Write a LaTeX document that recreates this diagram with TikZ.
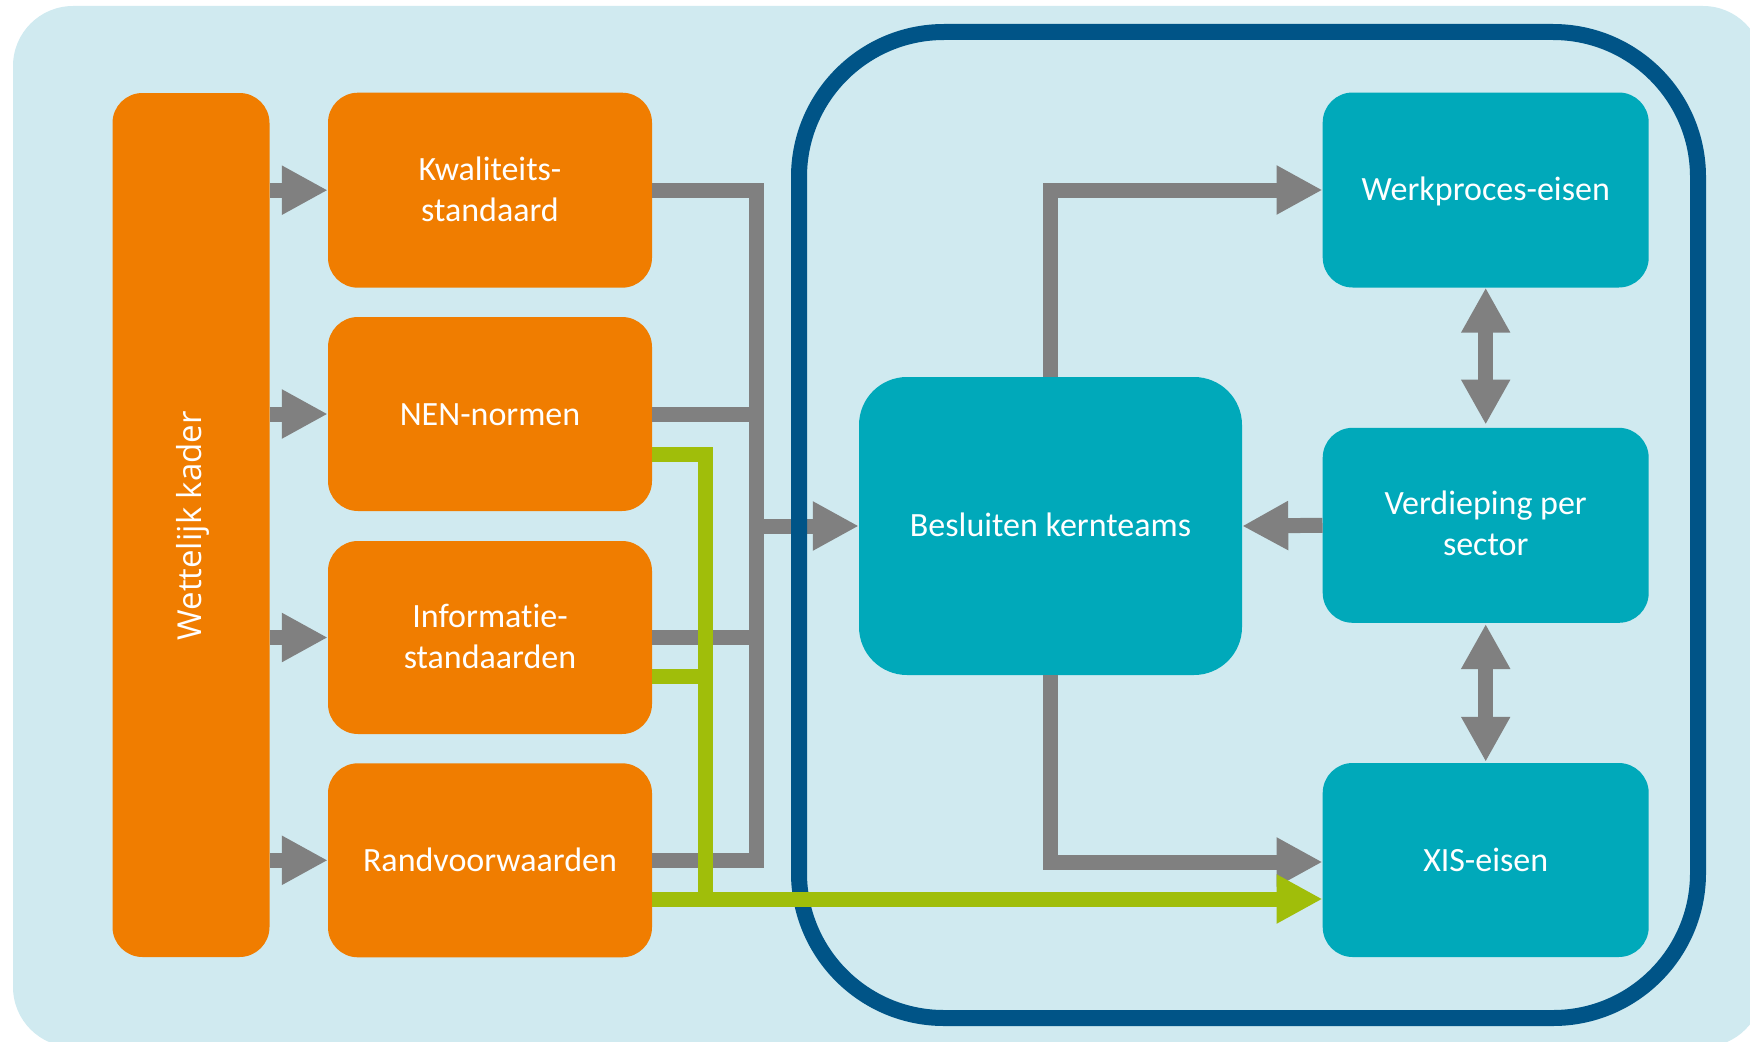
\documentclass[tikz,border=0pt]{standalone}
\usepackage{fontspec}
\setmainfont{Carlito}[Ligatures={NoCommon}]
\newfontfamily\wkfont{Open Sans}
\usetikzlibrary{arrows.meta}
\definecolor{bgblue}{RGB}{208,234,240}
\definecolor{orng}{RGB}{240,125,0}
\definecolor{tealb}{RGB}{0,169,186}
\definecolor{gry}{RGB}{128,128,128}
\definecolor{grn}{RGB}{160,190,10}
\definecolor{dblue}{RGB}{0,84,135}
\begin{document}
\begin{tikzpicture}[x=1pt,y=-1pt,
  obox/.style={fill=orng, rounded corners=30pt, inner sep=0pt},
  tbox/.style={fill=tealb, rounded corners=30pt, inner sep=0pt},
  lbl/.style={text=white, font=\fontsize{34}{41}\selectfont, anchor=base, inner sep=0pt},
  gline/.style={draw=gry, line width=15pt},
  garrow/.style={draw=gry, line width=15pt, -{Triangle[length=46pt,width=46pt]}},
  gdouble/.style={draw=gry, line width=15pt, {Triangle[length=45pt,width=46pt]}-{Triangle[length=45pt,width=46pt]}},
  grline/.style={draw=grn, line width=15pt},
  grarrow/.style={draw=grn, line width=15pt, -{Triangle[length=46pt,width=46pt]}}
]
\useasboundingbox (0,0) rectangle (1750,1041);
\clip (0,0) rectangle (1750,1041);
\fill[bgblue, rounded corners=60pt] (13,6) rectangle (1763,1047);

% boxes
\node[obox, minimum width=157pt, minimum height=864pt] (wk) at (191,525) {};
\node[obox, minimum width=324pt, minimum height=195pt] (kw) at (490,190.2) {};
\node[obox, minimum width=324pt, minimum height=194pt] (nen) at (490,414) {};
\node[obox, minimum width=324pt, minimum height=193pt] (inf) at (490,637.5) {};
\node[obox, minimum width=324pt, minimum height=194pt] (rv) at (490,860.3) {};
\node[tbox, rounded corners=48pt, minimum width=383pt, minimum height=298pt] (bes) at (1050.5,526) {};
\node[tbox, minimum width=326pt, minimum height=195pt] (wp) at (1485.7,190) {};
\node[tbox, minimum width=326pt, minimum height=195pt] (vp) at (1485.7,525.3) {};
\node[tbox, minimum width=326pt, minimum height=194pt] (xis) at (1485.7,860) {};

% gray connectors
\coordinate (bus) at (756,0);
\draw[garrow] (wk.east |- kw.west) -- (kw.west);
\draw[garrow] (wk.east |- nen.west) -- (nen.west);
\draw[garrow] (wk.east |- inf.west) -- (inf.west);
\draw[garrow] (wk.east |- rv.west) -- (rv.west);
\draw[gline] (kw.east) -| (bus |- rv.east) -- (rv.east);
\draw[gline] (nen.east) -- (nen.east -| bus);
\draw[gline] (inf.east) -- (inf.east -| bus);
\draw[garrow] (bus |- bes.west) -- (bes.west);
\draw[garrow] (bes.north) |- (wp.west);
\draw[garrow] (bes.south) |- ([yshift=-2pt]xis.west);
\draw[garrow] (vp.west) -- (bes.east);
\draw[gdouble, shorten <=3pt] (vp.north) -- (wp.south);
\draw[gdouble, shorten <=1pt, shorten >=1pt] (xis.north) -- (vp.south);

% frame
\node[draw=dblue, line width=16pt, rounded corners=145pt, minimum width=899pt, minimum height=986pt, inner sep=0pt] (frame) at (1248.5,525) {};

% green connectors
\coordinate (gbus) at (705.5,0);
\coordinate (xg) at ([yshift=-39pt]xis.west);
\draw[grarrow] ([yshift=-40.5pt]nen.east) -| (gbus |- xg) -- (xg);
\draw[grline] ([yshift=-38.5pt]inf.east) -- ([yshift=-38.5pt]inf.east -| gbus);
\draw[grline] (rv.east |- xg) -- (gbus |- xg);

% labels
\node[lbl] (kwt1) at (490,180) {Kwaliteits-};
\node[lbl] (kwt2) at (490,221) {standaard};
\node[lbl] (nent) at (490,425) {NEN-normen};
\node[lbl] (inft1) at (490,627) {Informatie-};
\node[lbl] (inft2) at (490,668) {standaarden};
\node[lbl] (rvt) at (490,871) {Randvoorwaarden};
\node[lbl] (best) at (1050.5,536) {Besluiten kernteams};
\node[lbl] (wpt) at (1485.7,200.7) {Werkproces-eisen};
\node[lbl] (vpt1) at (1485.7,514) {Verdieping per};
\node[lbl] (vpt2) at (1485.7,555) {sector};
\node[lbl] (xist) at (1485.7,871) {XIS-eisen};
\node[text=white, font=\wkfont\fontsize{33}{40}\selectfont, rotate=90, anchor=base, inner sep=0pt] (wkt) at (201.7,525.7) {Wettelijk kader};
\end{tikzpicture}
\end{document}
